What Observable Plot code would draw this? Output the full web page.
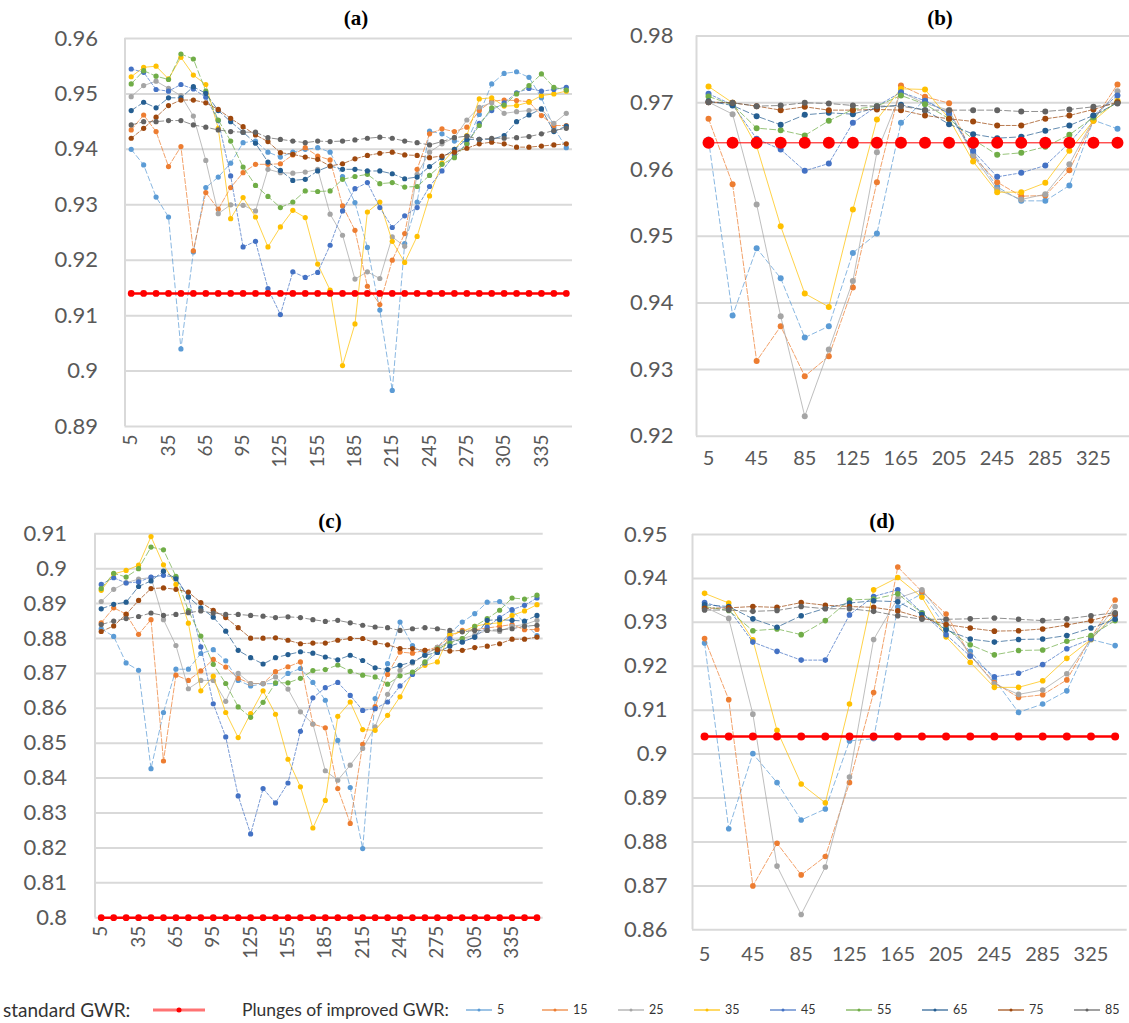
<!DOCTYPE html>
<html>
<head>
<meta charset="utf-8">
<script src="https://cdn.jsdelivr.net/npm/d3@7"></script>
<script src="https://cdn.jsdelivr.net/npm/@observablehq/plot@0.6"></script>
<style>
  html, body { margin: 0; padding: 0; background: #fff; }
  #chart { position: relative; width: 1129px; height: 1023px; background: #fff; font-family: Lato, "Open Sans", sans-serif; overflow: hidden; }
  .panel { position: absolute; }
  .title { position: absolute; transform: translate(-50%, -50%); font-family: "Liberation Serif", "DejaVu Serif", serif; font-weight: bold; font-size: 21px; color: #000; }
  .lg { position: absolute; white-space: nowrap; }
</style>
</head>
<body>
<div id="chart"></div>
<script>
// Plunge angles of the improved GWR runs and their series colours
const plunges = [5, 15, 25, 35, 45, 55, 65, 75, 85];
const plungeColors = ["#5B9BD5", "#ED7D31", "#A5A5A5", "#FFC000", "#4472C4", "#70AD47", "#255E91", "#9E480E", "#636363"];
const plungeDash = ["5,3", "5,2", null, null, "3,2", "6,3", "6,3", "4,2", "6,3"];

// Azimuth categories (10° steps for a/c, 20° steps for b/d)
const azimuthFine = [5,15,25,35,45,55,65,75,85,95,105,115,125,135,145,155,165,175,185,195,205,215,225,235,245,255,265,275,285,295,305,315,325,335,345,355];
const azimuthCoarse = [5,25,45,65,85,105,125,145,165,185,205,225,245,265,285,305,325,345];
const ticksFine = [5,35,65,95,125,155,185,215,245,275,305,335];
const ticksCoarse = [5,45,85,125,165,205,245,285,325];

// Standard GWR reference value per panel
const standardA = 0.914, standardB = 0.964, standardC = 0.800, standardD = 0.904;

// y tick values per panel
const yTicksA = [0.89,0.90,0.91,0.92,0.93,0.94,0.95,0.96];
const yTicksB = [0.92,0.93,0.94,0.95,0.96,0.97,0.98];
const yTicksC = [0.80,0.81,0.82,0.83,0.84,0.85,0.86,0.87,0.88,0.89,0.90,0.91];
const yTicksD = [0.86,0.87,0.88,0.89,0.90,0.91,0.92,0.93,0.94,0.95];

// Panel (a)
const a5  = [0.940,0.9372,0.9314,0.9278,0.904,0.9215,0.9331,0.935,0.9375,0.9412,0.9415,0.9395,0.9386,0.9395,0.940,0.9403,0.9395,0.9351,0.9304,0.9223,0.911,0.8965,0.923,0.9305,0.9433,0.9428,0.9415,0.9414,0.9463,0.9518,0.9537,0.954,0.953,0.9493,0.9439,0.9403];
const a15 = [0.9435,0.9462,0.9432,0.9369,0.9405,0.9217,0.9322,0.9292,0.9331,0.9358,0.9373,0.9373,0.9374,0.939,0.9403,0.9388,0.9381,0.9298,0.9254,0.9153,0.912,0.920,0.9248,0.9364,0.9428,0.9437,0.9432,0.944,0.947,0.9487,0.9489,0.9488,0.9486,0.9461,0.9443,0.9443];
const a25 = [0.9495,0.9515,0.9523,0.951,0.9497,0.946,0.938,0.9284,0.930,0.9299,0.9289,0.9364,0.9358,0.9357,0.9359,0.9364,0.9283,0.9245,0.9166,0.9179,0.9167,0.9242,0.9225,0.9355,0.9395,0.941,0.9421,0.9453,0.9476,0.9484,0.9465,0.9468,0.947,0.9473,0.9447,0.9465];
const a35 = [0.9531,0.9548,0.955,0.9527,0.9566,0.9534,0.9517,0.9438,0.9275,0.9313,0.9278,0.9224,0.926,0.929,0.9277,0.9193,0.9146,0.901,0.9085,0.9287,0.9305,0.9234,0.9196,0.9243,0.9316,0.9375,0.940,0.9425,0.9491,0.9493,0.9478,0.9479,0.9485,0.9497,0.950,0.9505];
const a45 = [0.9545,0.9539,0.9508,0.9505,0.9517,0.9509,0.9494,0.9452,0.9352,0.9224,0.9234,0.9149,0.9102,0.9179,0.9169,0.9178,0.9227,0.9289,0.9329,0.934,0.9295,0.9259,0.928,0.9295,0.9333,0.9361,0.939,0.941,0.9447,0.947,0.9484,0.9502,0.951,0.9505,0.9508,0.9512];
const a55 = [0.9518,0.9542,0.9532,0.9526,0.9572,0.9563,0.9505,0.9453,0.9415,0.9368,0.9335,0.9315,0.9295,0.9305,0.9325,0.9324,0.9325,0.9346,0.9351,0.9355,0.9338,0.934,0.9332,0.9333,0.9353,0.9373,0.9385,0.941,0.9443,0.9475,0.948,0.950,0.9515,0.9536,0.9512,0.9507];
const a65 = [0.947,0.9485,0.9475,0.9493,0.9493,0.9513,0.9501,0.947,0.945,0.9431,0.9411,0.9377,0.9362,0.9344,0.9346,0.9361,0.937,0.9364,0.9364,0.9361,0.9361,0.9356,0.9347,0.935,0.9369,0.9385,0.940,0.9418,0.9418,0.9418,0.9425,0.945,0.9462,0.9473,0.9432,0.9442];
const a75 = [0.942,0.9438,0.9458,0.9479,0.9489,0.9489,0.9484,0.9472,0.9456,0.9441,0.9426,0.9414,0.9394,0.9391,0.9386,0.9382,0.937,0.9374,0.9383,0.9389,0.9393,0.9395,0.939,0.9389,0.9385,0.9388,0.9395,0.9402,0.941,0.9413,0.941,0.9404,0.9404,0.9406,0.9408,0.941];
const a85 = [0.9444,0.945,0.945,0.9452,0.9452,0.9444,0.944,0.9435,0.9432,0.9431,0.9431,0.9421,0.9418,0.9415,0.9412,0.9415,0.9414,0.9415,0.9417,0.942,0.9422,0.942,0.9415,0.9412,0.9408,0.9414,0.9421,0.9424,0.9418,0.942,0.942,0.9421,0.9423,0.9428,0.9434,0.9438];

// Panel (b)
const b5  = [0.9645,0.9381,0.9482,0.9437,0.9348,0.9365,0.9475,0.9504,0.967,0.9705,0.9683,0.9625,0.9574,0.9553,0.9553,0.9576,0.9674,0.9661];
const b15 = [0.9676,0.9578,0.9313,0.9365,0.929,0.932,0.9423,0.9581,0.9726,0.9709,0.96995,0.962,0.9581,0.956,0.9561,0.9599,0.9673,0.97275];
const b25 = [0.9701,0.9683,0.95475,0.938,0.923,0.933,0.9433,0.9626,0.9716,0.9699,0.9689,0.9621,0.957,0.9555,0.9563,0.9608,0.9675,0.97175];
const b35 = [0.97245,0.970,0.9635,0.9515,0.9414,0.9394,0.954,0.9675,0.9721,0.972,0.9676,0.9612,0.9566,0.9566,0.958,0.9628,0.9673,0.9703];
const b45 = [0.97135,0.9697,0.9646,0.963,0.9598,0.9609,0.967,0.9695,0.9716,0.9703,0.9684,0.9628,0.9589,0.9595,0.9606,0.964,0.9681,0.9711];
const b55 = [0.97095,0.9697,0.9662,0.9659,0.9651,0.9673,0.969,0.9695,0.9711,0.9698,0.9676,0.9645,0.9622,0.9625,0.9634,0.9652,0.9678,0.9701];
const b65 = [0.97025,0.9696,0.968,0.9667,0.9682,0.9685,0.9683,0.9693,0.9697,0.9689,0.9668,0.9653,0.9647,0.9649,0.9658,0.9666,0.9681,0.970];
const b75 = [0.9701,0.970,0.9695,0.9689,0.9694,0.9689,0.9689,0.969,0.9689,0.9681,0.9676,0.9672,0.9666,0.9666,0.9676,0.9681,0.969,0.9701];
const b85 = [0.9701,0.970,0.9695,0.9696,0.970,0.9699,0.9696,0.9695,0.9695,0.9689,0.9689,0.9689,0.9689,0.9687,0.9687,0.969,0.9694,0.9699];

// Panel (c)
const c5  = [0.8828,0.8806,0.873,0.8709,0.8427,0.8588,0.8712,0.8712,0.8757,0.8768,0.8736,0.868,0.8664,0.867,0.8671,0.870,0.8714,0.8674,0.8623,0.8508,0.8373,0.8198,0.8628,0.8728,0.8847,0.878,0.8755,0.8775,0.8815,0.8847,0.8871,0.8904,0.8906,0.888,0.8845,0.8808];
const c15 = [0.8845,0.8888,0.887,0.8812,0.8854,0.8449,0.8695,0.868,0.8707,0.874,0.8718,0.8686,0.8671,0.8671,0.8705,0.8719,0.8733,0.8555,0.8544,0.837,0.827,0.8497,0.8605,0.8697,0.8761,0.8758,0.8766,0.8775,0.8805,0.8823,0.8825,0.883,0.8835,0.884,0.8825,0.8826];
const c25 = [0.8906,0.8941,0.896,0.897,0.8975,0.8854,0.878,0.8656,0.868,0.868,0.862,0.870,0.8671,0.8671,0.869,0.8655,0.859,0.8555,0.8421,0.8394,0.8437,0.8485,0.8547,0.864,0.8709,0.873,0.8752,0.8775,0.879,0.880,0.881,0.8823,0.882,0.8835,0.884,0.8852];
const c35 = [0.8938,0.8985,0.8995,0.901,0.9092,0.9011,0.8955,0.8844,0.865,0.8692,0.8588,0.8516,0.8585,0.865,0.8583,0.8454,0.8375,0.8257,0.8336,0.8577,0.8618,0.8539,0.8537,0.858,0.8633,0.870,0.8723,0.8733,0.8811,0.882,0.8835,0.8842,0.8845,0.8866,0.8879,0.8897];
const c45 = [0.8955,0.8974,0.8959,0.8962,0.8976,0.8981,0.8975,0.8919,0.8776,0.8613,0.8518,0.8349,0.824,0.837,0.8329,0.8386,0.8534,0.863,0.8659,0.8674,0.8637,0.8594,0.8599,0.8618,0.8664,0.8697,0.873,0.876,0.880,0.879,0.8804,0.8833,0.886,0.8883,0.8895,0.8916];
const c55 = [0.8943,0.8987,0.8976,0.900,0.9062,0.9054,0.8978,0.888,0.8807,0.8726,0.8671,0.8604,0.8574,0.8617,0.8673,0.8673,0.8686,0.8708,0.8711,0.8724,0.8706,0.8695,0.869,0.8669,0.8693,0.8704,0.8733,0.877,0.8787,0.880,0.8835,0.8857,0.8881,0.8916,0.8913,0.8924];
const c65 = [0.8885,0.8898,0.8904,0.8949,0.8965,0.8993,0.8971,0.8919,0.8888,0.8861,0.8821,0.8766,0.8745,0.8727,0.8745,0.8754,0.8762,0.8758,0.8747,0.8739,0.8752,0.8737,0.8716,0.8711,0.8723,0.8733,0.8752,0.876,0.8778,0.879,0.8804,0.8852,0.8854,0.8852,0.885,0.8866];
const c75 = [0.882,0.8836,0.8869,0.8909,0.8943,0.8945,0.8941,0.8933,0.8903,0.8881,0.886,0.8831,0.8801,0.8801,0.8802,0.8795,0.8785,0.8787,0.8787,0.8795,0.880,0.880,0.8788,0.8782,0.8771,0.8771,0.8766,0.8768,0.8764,0.8766,0.8774,0.8778,0.8785,0.8798,0.8798,0.8804];
const c85 = [0.884,0.885,0.8857,0.8863,0.8873,0.8866,0.8869,0.8874,0.8879,0.8873,0.8869,0.8869,0.8866,0.8864,0.886,0.8862,0.886,0.8854,0.8849,0.8852,0.8845,0.8838,0.8833,0.8831,0.8823,0.8828,0.8831,0.8828,0.8823,0.8819,0.8823,0.8823,0.8825,0.8828,0.8835,0.8838];

// Panel (d)
const d5  = [0.9253,0.883,0.9001,0.8935,0.885,0.8875,0.903,0.9035,0.9335,0.9365,0.929,0.9234,0.917,0.9095,0.9114,0.9144,0.9261,0.9247];
const d15 = [0.9263,0.9124,0.870,0.8797,0.8725,0.8767,0.8935,0.914,0.9426,0.937,0.9319,0.9225,0.9163,0.9129,0.9135,0.9169,0.9265,0.9351];
const d25 = [0.9335,0.9309,0.9091,0.8745,0.8635,0.8743,0.8948,0.9261,0.9355,0.9374,0.9305,0.9225,0.916,0.9136,0.9146,0.9183,0.9262,0.9336];
const d35 = [0.9366,0.9344,0.926,0.9054,0.8932,0.8889,0.9114,0.9374,0.9402,0.9357,0.9267,0.9209,0.9152,0.9152,0.9167,0.9218,0.9261,0.932];
const d45 = [0.9345,0.933,0.9255,0.9234,0.9214,0.9214,0.9317,0.9359,0.9374,0.9322,0.9272,0.9223,0.9176,0.9184,0.9204,0.924,0.9262,0.9315];
const d55 = [0.9336,0.9327,0.9281,0.9285,0.9272,0.9304,0.9351,0.9353,0.9365,0.9321,0.9285,0.9249,0.9226,0.9236,0.9237,0.9257,0.927,0.9304];
const d65 = [0.934,0.9336,0.9308,0.9289,0.9315,0.9332,0.9344,0.9349,0.9347,0.9318,0.9283,0.9262,0.9255,0.9261,0.9262,0.927,0.9287,0.9307];
const d75 = [0.9332,0.9333,0.9336,0.9334,0.9345,0.9339,0.9336,0.9334,0.9326,0.931,0.9295,0.9287,0.928,0.9281,0.9285,0.9294,0.9304,0.9319];
const d85 = [0.9328,0.9328,0.9325,0.9327,0.9336,0.9331,0.9331,0.9325,0.9315,0.9307,0.9307,0.9308,0.931,0.9307,0.9304,0.9308,0.9315,0.9322];

const fmtY = d => String(+d.toFixed(2));

function drawPanel(cfg) {
  const marks = [
    Plot.ruleY(cfg.yTicks, {stroke: "#d9d9d9", strokeWidth: 2}),
    Plot.ruleX([cfg.xDomain[0]], {stroke: "#d9d9d9", strokeWidth: 2}),
    Plot.axisY(cfg.yTicks, {tickSize: 0, tickPadding: cfg.yPad, tickFormat: fmtY, fontSize: 22, label: null}),
    Plot.axisX(cfg.xTicks, {tickSize: 0, tickPadding: cfg.xPad, tickRotate: cfg.rotate, fontSize: cfg.xFont, tickFormat: d => String(d), label: null})
  ];
  cfg.series.forEach((vals, k) => {
    const rows = vals.map((v, i) => ({azimuth: cfg.xs[i], r2: v}));
    marks.push(Plot.line(rows, {x: "azimuth", y: "r2", stroke: plungeColors[k], strokeWidth: 0.8, strokeDasharray: plungeDash[k], strokeOpacity: 0.9}));
    marks.push(Plot.dot(rows, {x: "azimuth", y: "r2", fill: plungeColors[k], r: cfg.dotR}));
  });
  const std = cfg.xs.map(x => ({azimuth: x, r2: cfg.standard}));
  marks.push(Plot.line(std, {x: "azimuth", y: "r2", stroke: "#ff0000", strokeWidth: cfg.stdW}));
  marks.push(Plot.dot(std, {x: "azimuth", y: "r2", fill: "#ff0000", r: cfg.stdR}));

  const svg = Plot.plot({
    width: cfg.width, height: cfg.height,
    marginTop: cfg.m[0], marginRight: cfg.m[1], marginBottom: cfg.m[2], marginLeft: cfg.m[3],
    x: {domain: cfg.xDomain},
    y: {domain: cfg.yDomain},
    style: {fontFamily: "Lato, 'Open Sans', sans-serif", color: "#595959", background: "none", overflow: "visible"},
    marks
  });
  const wrap = document.createElement("div");
  wrap.className = "panel";
  wrap.style.left = cfg.left + "px";
  wrap.style.top = cfg.top + "px";
  wrap.appendChild(svg);
  document.getElementById("chart").appendChild(wrap);

  const t = document.createElement("div");
  t.className = "title";
  t.textContent = cfg.title;
  t.style.left = cfg.titleX + "px";
  t.style.top = cfg.titleY + "px";
  document.getElementById("chart").appendChild(t);
}

drawPanel({
  title: "(a)", titleX: 356, titleY: 18,
  left: 0, top: 0, width: 575, height: 480, m: [38, 3, 54, 124.5],
  xs: azimuthFine, xDomain: [0, 360], xTicks: ticksFine, rotate: -90, xPad: 8, xFont: 19,
  yDomain: [0.89, 0.96], yTicks: yTicksA, yPad: 27,
  series: [a5, a15, a25, a35, a45, a55, a65, a75, a85],
  standard: standardA, stdR: 3.4, stdW: 2.6, dotR: 2.6
});
drawPanel({
  title: "(b)", titleX: 940, titleY: 18,
  left: 580, top: 0, width: 549, height: 480, m: [35.6, 0, 44.2, 116],
  xs: azimuthCoarse, xDomain: [-5, 355], xTicks: ticksCoarse, rotate: 0, xPad: 14, xFont: 20,
  yDomain: [0.92, 0.98], yTicks: yTicksB, yPad: 23,
  series: [b5, b15, b25, b35, b45, b55, b65, b75, b85],
  standard: standardB, stdR: 6, stdW: 1, dotR: 3
});
drawPanel({
  title: "(c)", titleX: 330, titleY: 521,
  left: 0, top: 490, width: 575, height: 490, m: [43.3, 32.3, 62.8, 94.5],
  xs: azimuthFine, xDomain: [0, 360], xTicks: ticksFine, rotate: -90, xPad: 8, xFont: 19,
  yDomain: [0.80, 0.91], yTicks: yTicksC, yPad: 28,
  series: [c5, c15, c25, c35, c45, c55, c65, c75, c85],
  standard: standardC, stdR: 3.4, stdW: 2.6, dotR: 2.6
});
drawPanel({
  title: "(d)", titleX: 882, titleY: 521,
  left: 580, top: 490, width: 549, height: 490, m: [44, 2.3, 50.7, 112],
  xs: azimuthCoarse, xDomain: [-5, 355], xTicks: ticksCoarse, rotate: 0, xPad: 17, xFont: 20,
  yDomain: [0.86, 0.95], yTicks: yTicksD, yPad: 25,
  series: [d5, d15, d25, d35, d45, d55, d65, d75, d85],
  standard: standardD, stdR: 4, stdW: 2.5, dotR: 2.8
});

// Legend row
const chart = document.getElementById("chart");
function addText(txt, left, size) {
  const d = document.createElement("div");
  d.className = "lg";
  d.textContent = txt;
  d.style.left = left + "px";
  d.style.top = (1010 - size * 0.62) + "px";
  d.style.fontSize = size + "px";
  d.style.color = "#333";
  chart.appendChild(d);
}
function addSwatch(left, w, color, lw, r, op) {
  const svg = d3.create("svg").attr("width", w).attr("height", 12)
    .style("position", "absolute").style("left", left + "px").style("top", "1004px");
  svg.append("line").attr("x1", 0).attr("x2", w).attr("y1", 6).attr("y2", 6)
    .attr("stroke", color).attr("stroke-width", lw).attr("stroke-opacity", op);
  svg.append("circle").attr("cx", w / 2).attr("cy", 6).attr("r", r).attr("fill", color);
  chart.appendChild(svg.node());
}
addText("standard GWR:", 3, 19);
addSwatch(153, 52, "#ff0000", 3, 2.5, 0.55);
addText("Plunges of improved GWR:", 242, 17.5);
plunges.forEach((p, k) => {
  const x0 = 466 + k * 76;
  addSwatch(x0, 26, plungeColors[k], 1.5, 1.5, 0.8);
  addText(String(p), x0 + 31, 12.5);
});
</script>
</body>
</html>
